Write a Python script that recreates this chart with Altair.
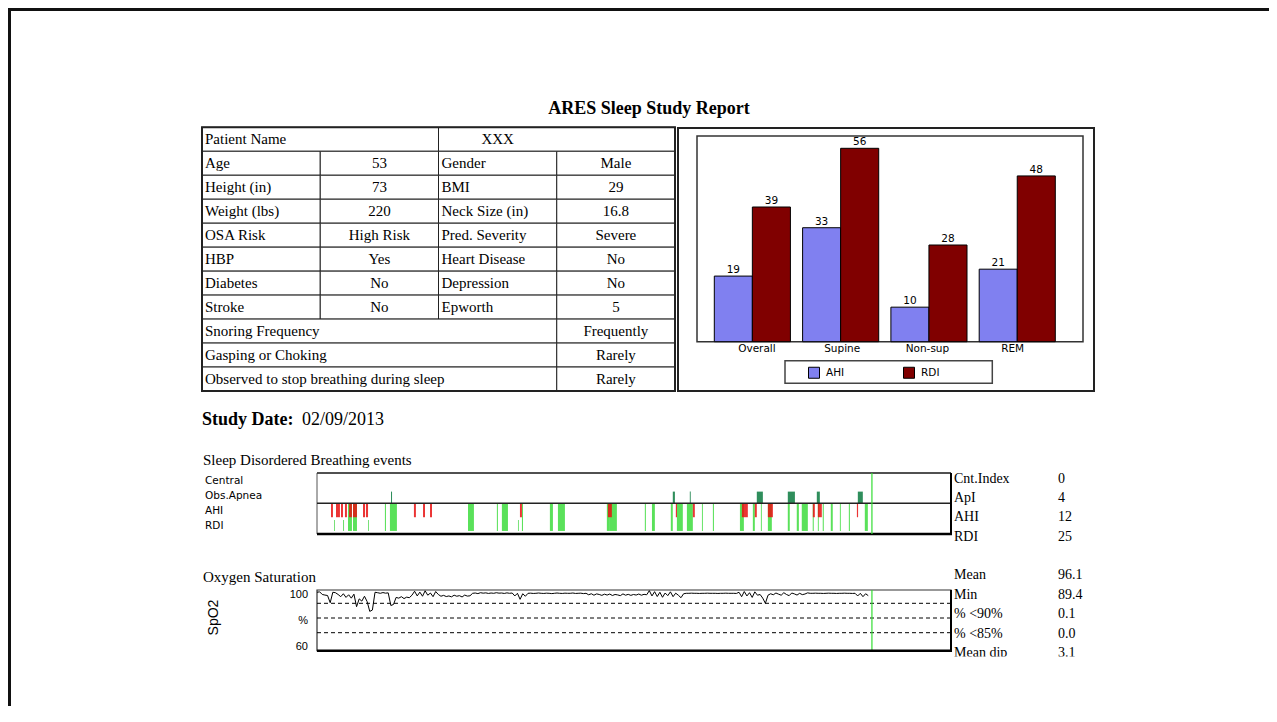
import altair as alt
import pandas as pd

report_title = "ARES Sleep Study Report"
patient_label = "Patient Name"
patient_name = "XXX"

left_fields = ["Age", "Height (in)", "Weight (lbs)", "OSA Risk", "HBP", "Diabetes", "Stroke"]
left_values = ["53", "73", "220", "High Risk", "Yes", "No", "No"]
right_fields = ["Gender", "BMI", "Neck Size (in)", "Pred. Severity", "Heart Disease", "Depression", "Epworth"]
right_values = ["Male", "29", "16.8", "Severe", "No", "No", "5"]
questions = ["Snoring Frequency", "Gasping or Choking", "Observed to stop breathing during sleep"]
answers = ["Frequently", "Rarely", "Rarely"]

positions = ["Overall", "Supine", "Non-sup", "REM"]
series_names = ["AHI", "RDI"]
ahi_values = [19, 33, 10, 21]
rdi_values = [39, 56, 28, 48]

study_date_label = "Study Date:"
study_date = "02/09/2013"

events_title = "Sleep Disordered Breathing events"
event_rows = ["Central", "Obs.Apnea", "AHI", "RDI"]
event_stat_labels = ["Cnt.Index", "ApI", "AHI", "RDI"]
event_stat_values = ["0", "4", "12", "25"]

# event start / end times in minutes from lights-out
obs_apnea_events = [(56.1, 56.9), (269.8, 271.4), (282.7, 283.4), (333.5, 338.1),
                    (357.0, 362.4), (379.0, 381.3), (410.1, 413.9)]
apnea_events = [(10.6, 12.1), (14.4, 17.4), (18.2, 19.7), (21.2, 22.7), (24.3, 26.5),
                (27.3, 30.3), (34.9, 36.4), (37.1, 38.7), (73.5, 75.0), (80.4, 81.9),
                (85.7, 87.2), (153.9, 155.4), (220.6, 223.6), (272.1, 273.0), (285.0, 286.5),
                (322.2, 326.7), (332.0, 333.5), (341.9, 345.7), (376.0, 377.5), (379.8, 382.8),
                (409.4, 410.3)]
hypopnea_events = [(23.5, 26.5), (27.3, 30.3), (51.5, 52.3), (55.3, 60.6), (114.5, 119.0),
                   (136.4, 137.2), (140.2, 144.8), (155.4, 156.2), (176.6, 178.9), (182.7, 188.0),
                   (219.8, 222.1), (222.1, 227.4), (248.6, 249.4), (254.0, 256.2), (268.3, 269.8),
                   (272.9, 277.4), (280.5, 285.0), (291.9, 292.6), (300.2, 301.0), (320.7, 323.7),
                   (330.5, 332.0), (336.6, 337.3), (341.9, 344.9), (357.0, 358.5), (363.8, 365.4),
                   (367.6, 372.2), (375.9, 376.7), (379.8, 380.5), (383.5, 384.3), (389.6, 391.1),
                   (396.5, 397.2), (403.3, 404.1), (415.4, 417.7)]
rera_events = [(12.9, 13.6), (19.7, 20.5), (38.7, 39.4), (152.4, 153.1)]
recording_end = 420.8
study_span = 480

spo2_title = "Oxygen Saturation"
spo2_step_min = 2
spo2_values = [
    97.5, 97.8, 96.0, 95.6, 95.3, 90.4, 97.5, 97.2, 96.0, 94.5,
    96.5, 94.0, 95.8, 93.5, 96.2, 87.7, 93.0, 91.5, 94.8, 91.2,
    84.5, 85.4, 97.5, 97.2, 96.8, 97.3, 96.9, 97.1, 88.5, 89.2,
    94.0, 93.5, 94.5, 93.2, 94.2, 93.8, 95.5, 98.2, 95.0, 97.6,
    94.8, 98.5, 95.5, 97.0, 94.5, 98.0, 96.0, 94.8, 95.4, 94.6,
    95.0, 94.4, 95.5, 94.8, 95.2, 94.3, 95.6, 94.9, 95.1, 96.8,
    97.0, 96.6, 97.2, 96.9, 97.1, 96.7, 97.0, 96.8, 97.2, 96.9,
    97.0, 96.7, 97.1, 96.8, 97.0, 95.0, 96.8, 92.7, 96.5, 94.8,
    96.8, 96.9, 96.7, 96.8, 97.0, 96.8, 96.7, 96.9, 96.8, 96.6,
    96.8, 97.0, 96.8, 96.7, 96.9, 96.8, 96.8, 97.0, 96.7, 96.8,
    96.9, 96.6, 96.8, 95.8, 96.5, 95.5, 96.4, 96.0, 95.4, 96.2,
    95.6, 96.3, 95.3, 96.0, 95.7, 95.2, 96.4, 95.5, 96.1, 95.4,
    96.0, 95.6, 96.3, 95.5, 96.1, 95.8, 98.6, 95.0, 97.9, 94.6,
    97.5, 94.1, 97.0, 95.2, 97.8, 94.5, 96.9, 95.5, 93.8, 96.5,
    96.8, 96.8, 96.9, 96.8, 96.8, 96.7, 96.8, 96.8, 96.9, 96.8,
    96.8, 96.8, 96.7, 96.8, 96.8, 96.9, 96.8, 96.8, 96.8, 96.7,
    97.5, 94.5, 98.0, 95.0, 97.2, 94.0, 97.8, 95.5, 96.0, 93.5,
    90.0, 95.5, 96.5, 95.8, 97.0, 96.2, 95.5, 97.2, 96.0, 95.2,
    97.0, 96.4, 95.6, 96.8, 95.9, 96.3, 97.1, 96.8, 96.8, 96.9,
    96.8, 96.8, 96.7, 96.8, 96.9, 96.8, 96.8, 96.7, 96.8, 96.8,
    96.9, 96.8, 96.8, 96.7, 96.8, 95.0, 96.8, 94.5, 96.5, 95.2,
]
spo2_reference_levels = [90, 80, 70]
spo2_tick_labels = ["100", "%", "60"]
spo2_stat_labels = ["Mean", "Min", "% <90%", "% <85%", "Mean dip"]
spo2_stat_values = ["96.1", "89.4", "0.1", "0.0", "3.1"]

# ---------------- styling / layout ----------------
SERIF = "Liberation Serif"
SANS = "Liberation Sans"
TAHOMA = "DejaVu Sans"
W, H = 1261, 698
dummy = pd.DataFrame({"d": [0]})


def rule(x1, y1, x2, y2, color="black", width=1.0):
    return alt.Chart(dummy).mark_rule(color=color, strokeWidth=width).encode(
        x=alt.value(x1), y=alt.value(y1), x2=alt.value(x2), y2=alt.value(y2))


def box(x1, y1, x2, y2, stroke="black", width=1.0, fill="white", fill_opacity=0.0):
    return alt.Chart(dummy).mark_rect(stroke=stroke, strokeWidth=width, fill=fill,
                                      fillOpacity=fill_opacity).encode(
        x=alt.value(x1), y=alt.value(y1), x2=alt.value(x2), y2=alt.value(y2))


def txt(text, x, y, size=15, weight="normal", align="left", font=SERIF, angle=0):
    return alt.Chart(dummy).mark_text(text=text, fontSize=size, fontWeight=weight, align=align,
                                      baseline="middle", font=font, angle=angle,
                                      color="black").encode(x=alt.value(x), y=alt.value(y))


layers = []

# page frame
layers += [rule(0, 1.5, W, 1.5, "#111", 3), rule(1.5, 0, 1.5, H, "#111", 3)]

# title
layers.append(txt(report_title, 641, 101, size=18, weight="bold", align="center"))

# ---------------- patient table ----------------
cells, label_cells, value_cells = [], [], []


def add_cell(c0, c1, r, text, is_label, centre=None):
    cells.append({"c0": c0, "c1": c1, "r": r, "r2": r + 1})
    if is_label:
        label_cells.append({"c": c0, "rm": r + 0.5, "text": text})
    else:
        value_cells.append({"c": centre, "rm": r + 0.5, "text": text})


add_cell(0, 2, 0, patient_label, True)
add_cell(2, 4, 0, patient_name, False, 2.5)
for i, (lf, lv, rf, rv) in enumerate(zip(left_fields, left_values, right_fields, right_values)):
    r = i + 1
    add_cell(0, 1, r, lf, True)
    add_cell(1, 2, r, lv, False, 1.5)
    add_cell(2, 3, r, rf, True)
    add_cell(3, 4, r, rv, False, 3.5)
for j, (q, a) in enumerate(zip(questions, answers)):
    r = 1 + len(left_fields) + j
    add_cell(0, 3, r, q, True)
    add_cell(3, 4, r, a, False, 3.5)

n_rows = 1 + len(left_fields) + len(questions)
tx = alt.Scale(domain=[0, 4], range=[194, 667])
ty = alt.Scale(domain=[0, n_rows], range=[119.3, 383])

layers.append(alt.Chart(pd.DataFrame(cells)).mark_rect(fill="white", stroke="#222", strokeWidth=1).encode(
    x=alt.X("c0:Q", scale=tx, axis=None), x2="c1:Q",
    y=alt.Y("r:Q", scale=ty, axis=None), y2="r2:Q"))
layers.append(alt.Chart(pd.DataFrame(label_cells)).mark_text(
    align="left", baseline="middle", dx=3, font=SERIF, fontSize=15, color="black").encode(
    x=alt.X("c:Q", scale=tx, axis=None), y=alt.Y("rm:Q", scale=ty, axis=None), text="text:N"))
layers.append(alt.Chart(pd.DataFrame(value_cells)).mark_text(
    align="center", baseline="middle", font=SERIF, fontSize=15, color="black").encode(
    x=alt.X("c:Q", scale=tx, axis=None), y=alt.Y("rm:Q", scale=ty, axis=None), text="text:N"))
layers.append(box(194, 119.3, 667, 383, "#222", 2))

# ---------------- AHI / RDI bar chart ----------------
layers.append(box(670, 120, 1086, 383, "#222", 2, "white", 1))
layers.append(box(689, 128, 1075, 333.7, "#333", 1.5))

bars_df = pd.DataFrame({
    "position": positions * 2,
    "series": [series_names[0]] * len(positions) + [series_names[1]] * len(positions),
    "value": ahi_values + rdi_values,
})
bx = alt.Scale(domain=positions, range=[706.3, 1047.3], paddingInner=0.138, paddingOuter=0)
by = alt.Scale(domain=[0, 56], range=[333.7, 140.3], nice=False, zero=True)
bar_colors = alt.Scale(domain=series_names, range=["#8080f0", "#800000"])

layers.append(alt.Chart(bars_df).mark_bar(stroke="black", strokeWidth=1).encode(
    x=alt.X("position:N", scale=bx, sort=positions, axis=None),
    xOffset=alt.XOffset("series:N", sort=series_names),
    y=alt.Y("value:Q", scale=by, axis=None),
    color=alt.Color("series:N", scale=bar_colors, legend=alt.Legend(
        orient="none", legendX=800, legendY=358.5, direction="horizontal", title=None,
        symbolType="square", symbolSize=121, symbolStrokeColor="black", symbolStrokeWidth=1,
        labelFont=TAHOMA, labelFontSize=10.5, labelColor="black", labelOffset=6,
        columnPadding=56, padding=0)),
))
layers.append(alt.Chart(bars_df).mark_text(baseline="bottom", dy=-1, font=TAHOMA, fontSize=10.5,
                                           color="black").encode(
    x=alt.X("position:N", scale=bx, sort=positions, axis=None),
    xOffset=alt.XOffset("series:N", sort=series_names),
    y=alt.Y("value:Q", scale=by, axis=None),
    text="value:Q"))
layers.append(alt.Chart(pd.DataFrame({"position": positions})).mark_text(
    baseline="middle", font=TAHOMA, fontSize=10.5, color="black").encode(
    x=alt.X("position:N", scale=bx, sort=positions, axis=None),
    y=alt.value(341), text="position:N"))
layers.append(box(777, 352.7, 984.3, 375.3, "#444", 1.5))

# ---------------- study date ----------------
layers.append(txt(study_date_label, 194, 412, size=18, weight="bold"))
layers.append(txt(study_date, 294, 412, size=18))

# ---------------- event strip ----------------
time_x = alt.Scale(domain=[0, study_span], range=[309, 942])
ev_y = alt.Scale(domain=[0, 4], range=[526, 465])
lanes = {"hypopnea": (0.2, 1.97), "rera": (0.2, 0.92), "apnea": (1.1, 1.97), "obs": (2.0, 2.78)}
ev_rows = []
for kind, evs in [("hypopnea", hypopnea_events), ("rera", rera_events),
                  ("apnea", apnea_events), ("obs", obs_apnea_events)]:
    for s, e in evs:
        ev_rows.append({"start": s, "end": e, "y0": lanes[kind][0], "y1": lanes[kind][1], "kind": kind})
events_df = pd.DataFrame(ev_rows)

layers.append(txt(events_title, 195, 452, size=15))
layers.append(alt.Chart(pd.DataFrame({"name": event_rows, "i": list(range(len(event_rows)))})).mark_text(
    align="left", baseline="middle", font=TAHOMA, fontSize=10.5, color="black").encode(
    x=alt.value(197), y=alt.Y("i:Q", scale=alt.Scale(domain=[0, 3], range=[472.7, 518]), axis=None),
    text="name:N"))
layers.append(box(309, 465, 943, 526, "#555", 1))
layers.append(alt.Chart(events_df).mark_rect(opacity=0.85).encode(
    x=alt.X("start:Q", scale=time_x, axis=None), x2="end:Q",
    y=alt.Y("y0:Q", scale=ev_y, axis=None), y2="y1:Q",
    color=alt.Color("kind:N", scale=alt.Scale(domain=["hypopnea", "rera", "apnea", "obs"],
                                             range=["#3ddc3d", "#55d855", "#e81010", "#0b7a40"]),
                    legend=None)))
layers.append(rule(309, 495.3, 943, 495.3, "#222", 1.5))
layers.append(rule(309, 465, 943, 465, "#333", 1.5))
layers.append(rule(309, 526, 944, 526, "#000", 2.5))
layers.append(rule(943, 465, 943, 527, "#000", 2))
layers.append(alt.Chart(pd.DataFrame({"t": [recording_end]})).mark_rule(color="#33dd33", strokeWidth=1.2).encode(
    x=alt.X("t:Q", scale=time_x, axis=None), y=alt.value(465), y2=alt.value(526)))

ev_stats = pd.DataFrame({"label": event_stat_labels, "value": event_stat_values,
                         "i": list(range(len(event_stat_labels)))})
ev_stat_y = alt.Scale(domain=[0, 3], range=[471, 528.7])
layers.append(alt.Chart(ev_stats).mark_text(align="left", baseline="middle", font=SERIF, fontSize=14,
                                            color="black").encode(
    x=alt.value(946), y=alt.Y("i:Q", scale=ev_stat_y, axis=None), text="label:N"))
layers.append(alt.Chart(ev_stats).mark_text(align="left", baseline="middle", font=SERIF, fontSize=14,
                                            color="black").encode(
    x=alt.value(1050), y=alt.Y("i:Q", scale=ev_stat_y, axis=None), text="value:N"))

# ---------------- oxygen saturation ----------------
spo2_y = alt.Scale(domain=[60, 100], range=[639.4, 580.6], nice=False, zero=False)
spo2_df = pd.DataFrame({"t": [i * spo2_step_min for i in range(len(spo2_values))], "spo2": spo2_values})

layers.append(txt(spo2_title, 195, 569, size=15))
layers.append(txt("SpO2", 206, 609.5, size=14, font=SANS, align="center", angle=270))
layers.append(alt.Chart(pd.DataFrame({"lab": spo2_tick_labels, "i": [0, 1, 2]})).mark_text(
    align="right", baseline="middle", font=SANS, fontSize=11, color="black").encode(
    x=alt.value(300), y=alt.Y("i:Q", scale=alt.Scale(domain=[0, 2], range=[586.7, 639.3]), axis=None),
    text="lab:N"))
layers.append(box(309, 582, 943, 642.7, "#333", 1.2))
layers.append(alt.Chart(pd.DataFrame({"level": spo2_reference_levels})).mark_rule(
    color="black", strokeWidth=1, strokeDash=[4, 3]).encode(
    y=alt.Y("level:Q", scale=spo2_y, axis=None), x=alt.value(309), x2=alt.value(943)))
layers.append(alt.Chart(spo2_df).mark_line(color="black", strokeWidth=1).encode(
    x=alt.X("t:Q", scale=time_x, axis=None), y=alt.Y("spo2:Q", scale=spo2_y, axis=None)))
layers.append(alt.Chart(pd.DataFrame({"t": [recording_end]})).mark_rule(color="#33dd33", strokeWidth=1.2).encode(
    x=alt.X("t:Q", scale=time_x, axis=None), y=alt.value(582), y2=alt.value(642.7)))
layers.append(rule(309, 642.7, 944, 642.7, "#000", 2.5))
layers.append(rule(943, 582, 943, 643, "#000", 2))

sp_stats = pd.DataFrame({"label": spo2_stat_labels, "value": spo2_stat_values,
                         "i": list(range(len(spo2_stat_labels)))})
sp_stat_y = alt.Scale(domain=[0, 4], range=[567, 645.3])
layers.append(alt.Chart(sp_stats).mark_text(align="left", baseline="middle", font=SERIF, fontSize=14,
                                            color="black").encode(
    x=alt.value(946), y=alt.Y("i:Q", scale=sp_stat_y, axis=None), text="label:N"))
layers.append(alt.Chart(sp_stats).mark_text(align="left", baseline="middle", font=SERIF, fontSize=14,
                                            color="black").encode(
    x=alt.value(1050), y=alt.Y("i:Q", scale=sp_stat_y, axis=None), text="value:N"))

# the printed page is cut just below the SpO2 panel
layers.append(box(292, 648.5, W, H, "white", 0, "white", 1))

chart = alt.layer(*layers).resolve_scale(
    x="independent", y="independent", color="independent"
).properties(
    width=W, height=H, padding=0, autosize=alt.AutoSizeParams(type="none")
).configure_view(stroke=None).configure(background="white")

chart.save("out.html", embed_options={"renderer": "svg", "actions": False})
